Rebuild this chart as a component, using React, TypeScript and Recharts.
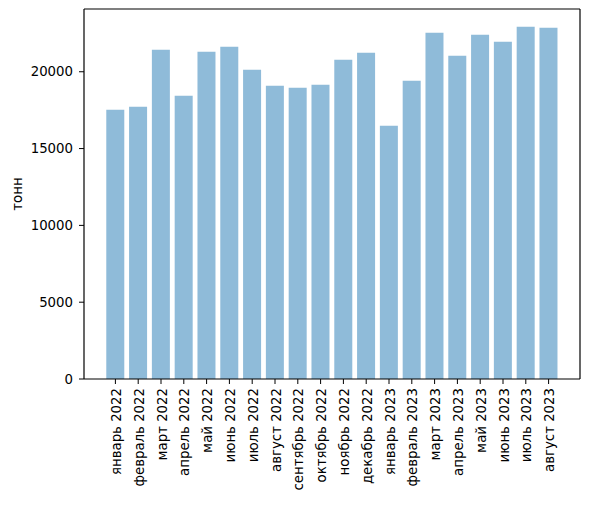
import React from "react";
import { BarChart, Bar, XAxis, YAxis } from "recharts";

const months = [
  "январь 2022", "февраль 2022", "март 2022", "апрель 2022", "май 2022",
  "июнь 2022", "июль 2022", "август 2022", "сентябрь 2022", "октябрь 2022",
  "ноябрь 2022", "декабрь 2022", "январь 2023", "февраль 2023", "март 2023",
  "апрель 2023", "май 2023", "июнь 2023", "июль 2023", "август 2023",
];

const tons = [
  17520, 17720, 21430, 18440, 21300,
  21630, 20130, 19090, 18960, 19150,
  20780, 21240, 16480, 19410, 22540,
  21040, 22410, 21950, 22930, 22870,
];

const yTicks = [0, 5000, 10000, 15000, 20000];

const data = months.map((m, i) => ({ month: m, value: tons[i] }));

const FONT = "DejaVu Sans, sans-serif";

const XTick = ({ x, y, payload }: any) => (
  <text
    transform={`translate(${x + 1},${y + 2}) rotate(-90)`}
    textAnchor="end"
    dominantBaseline="central"
    fontSize={13.3}
    fontFamily={FONT}
    fill="#000"
  >
    {payload.value}
  </text>
);

const YTitle = ({ viewBox }: any) => (
  <text
    transform={`translate(17,${viewBox.y + viewBox.height / 2}) rotate(-90)`}
    textAnchor="middle"
    dominantBaseline="central"
    fontSize={13.3}
    fontFamily={FONT}
    fill="#000"
  >
    тонн
  </text>
);

export default function App() {
  return (
    <div style={{ position: "absolute", left: 0, top: 0, background: "#fff" }}>
      <BarChart
        width={589}
        height={506}
        data={data}
        margin={{ top: 8, right: 8, bottom: 0, left: 0 }}
        barCategoryGap="10%"
      >
        <XAxis
          dataKey="month"
          interval={0}
          height={127}
          padding={{ left: 20, right: 20 }}
          tick={<XTick />}
          tickSize={5}
          tickMargin={2}
          axisLine={{ stroke: "#000", strokeWidth: 1.2 }}
          tickLine={{ stroke: "#000" }}
        />
        <XAxis
          xAxisId="top"
          dataKey="month"
          orientation="top"
          height={1}
          interval={0}
          padding={{ left: 20, right: 20 }}
          tick={false}
          tickLine={false}
          axisLine={{ stroke: "#000", strokeWidth: 1.2 }}
        />
        <YAxis
          width={84}
          domain={[0, 24085]}
          ticks={yTicks}
          allowDataOverflow
          tickSize={5}
          tickMargin={6}
          tick={{ fill: "#000", fontSize: 13.3, fontFamily: FONT }}
          axisLine={{ stroke: "#000", strokeWidth: 1.2 }}
          tickLine={{ stroke: "#000" }}
          label={{ content: <YTitle /> }}
        />
        <YAxis
          yAxisId="right"
          orientation="right"
          width={1}
          domain={[0, 24085]}
          tick={false}
          tickLine={false}
          axisLine={{ stroke: "#000", strokeWidth: 1.2 }}
        />
        <Bar dataKey="value" fill="#1f77b4" fillOpacity={0.5} isAnimationActive={false} />
      </BarChart>
    </div>
  );
}
